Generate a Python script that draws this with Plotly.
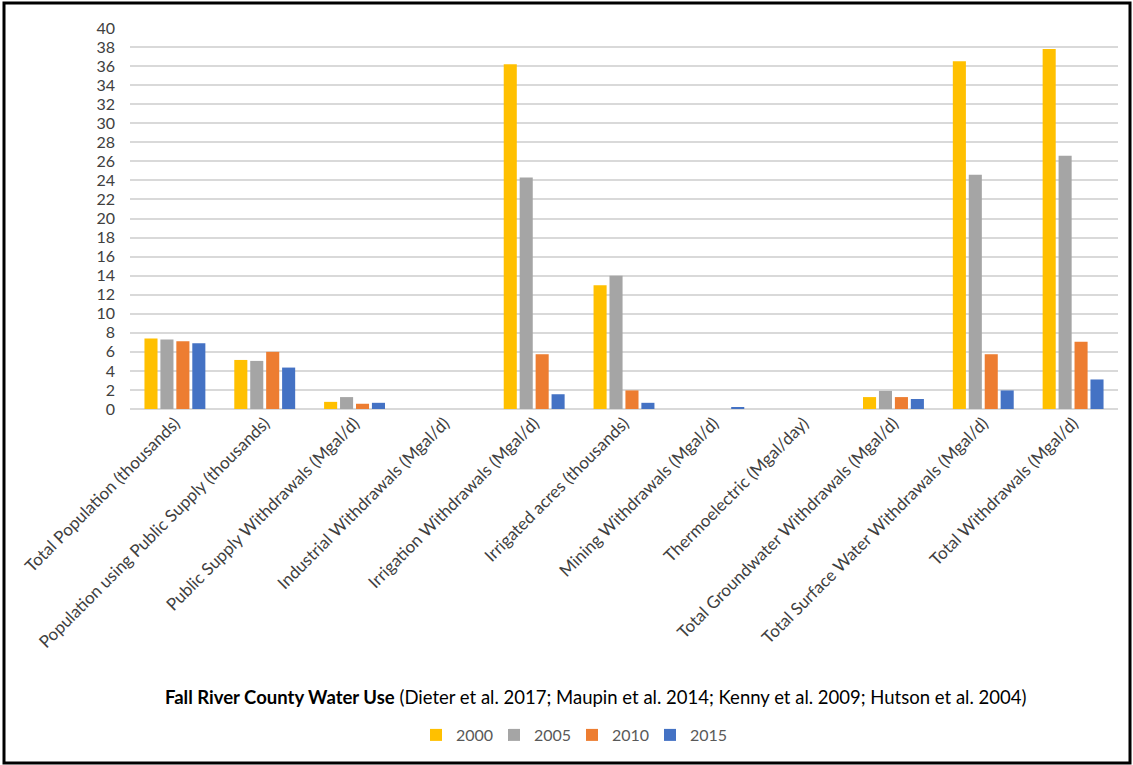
import plotly.graph_objects as go

categories = [
    "Total Population (thousands)",
    "Population using Public Supply (thousands)",
    "Public Supply Withdrawals (Mgal/d)",
    "Industrial Withdrawals (Mgal/d)",
    "Irrigation Withdrawals (Mgal/d)",
    "Irrigated acres (thousands)",
    "Mining Withdrawals (Mgal/d)",
    "Thermoelectric (Mgal/day)",
    "Total Groundwater Withdrawals (Mgal/d)",
    "Total Surface Water Withdrawals (Mgal/d)",
    "Total Withdrawals (Mgal/d)",
]
years = ["2000", "2005", "2010", "2015"]
v2000 = [7.4, 5.15, 0.75, 0, 36.2, 13.0, 0, 0, 1.25, 36.5, 37.8]
v2005 = [7.3, 5.05, 1.25, 0, 24.3, 14.0, 0, 0, 1.9, 24.6, 26.6]
v2010 = [7.1, 6.0, 0.55, 0, 5.75, 1.95, 0, 0, 1.25, 5.75, 7.05]
v2015 = [6.9, 4.35, 0.65, 0, 1.55, 0.65, 0.15, 0, 1.05, 1.95, 3.1]
colors = ["#FFC000", "#A5A5A5", "#ED7D31", "#4472C4"]

series = [v2000, v2005, v2010, v2015]
font_family = "Lato, 'Open Sans', sans-serif"

fig = go.Figure()
for name, vals, col in zip(years, series, colors):
    fig.add_trace(go.Bar(x=categories, y=vals, name=name, marker=dict(color=col, line=dict(width=0))))

L, R, T, B = 130, 15, 28, 356
W, H = 1133, 765
pw = W - L - R
ph = H - T - B

def px2paper_x(px):
    return (px - L) / pw

def px2paper_y(py):
    return (H - B - py) / ph

fig.update_layout(
    width=W, height=H,
    margin=dict(l=L, r=R, t=T, b=B),
    paper_bgcolor="white", plot_bgcolor="white",
    barmode="group", bargap=0.29, bargroupgap=0.18,
    font=dict(family=font_family, size=15, color="#404040"),
    showlegend=True,
    legend=dict(orientation="h", x=px2paper_x(572), xanchor="center",
                y=px2paper_y(735), yanchor="middle",
                font=dict(size=16, color="#595959"), itemwidth=30,
                entrywidth=33, entrywidthmode="pixels",
                traceorder="normal"),
    xaxis=dict(tickangle=-45, showgrid=False, showline=False, ticks="",
               tickfont=dict(size=17, color="#404040")),
    yaxis=dict(range=[0, 40], dtick=2, showgrid=True, gridcolor="#D9D9D9", gridwidth=1.5,
               zeroline=True, zerolinecolor="#D9D9D9", zerolinewidth=1.5,
               ticks="", ticklabelstandoff=14, tickfont=dict(size=16, color="#404040")),
    annotations=[dict(
        text="<b>Fall River County Water Use</b> (Dieter et al. 2017; Maupin et al. 2014; Kenny et al. 2009; Hutson et al. 2004)",
        xref="paper", yref="paper", x=px2paper_x(595), y=px2paper_y(697),
        xanchor="center", yanchor="middle", showarrow=False,
        font=dict(size=18.5, color="#000000"))],
    shapes=[dict(type="rect", xref="paper", yref="paper",
                 x0=px2paper_x(4), x1=px2paper_x(1130),
                 y0=px2paper_y(763), y1=px2paper_y(3),
                 line=dict(color="black", width=3), fillcolor="rgba(0,0,0,0)", layer="below")],
)

fig.write_html("out.html")
